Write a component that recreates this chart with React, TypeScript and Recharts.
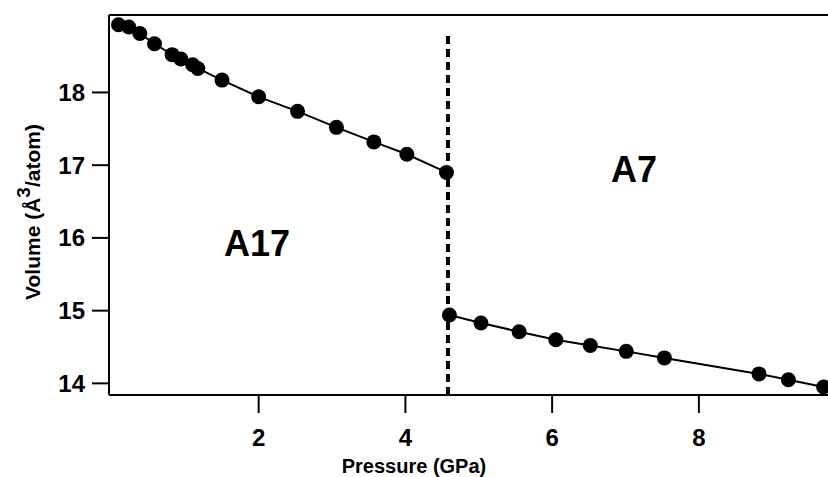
import React from 'react';
import { ComposedChart, Line, XAxis, YAxis, ReferenceLine } from 'recharts';

// A17 phase (low pressure)
const a17Pressure = [0.09, 0.23, 0.38, 0.58, 0.82, 0.94, 1.1, 1.17, 1.5, 2.0, 2.53, 3.06, 3.57, 4.02, 4.56];
const a17Volume = [18.93, 18.9, 18.81, 18.67, 18.52, 18.46, 18.38, 18.33, 18.17, 17.94, 17.74, 17.52, 17.32, 17.15, 16.9];

// A7 phase (high pressure)
const a7Pressure = [4.6, 5.03, 5.55, 6.05, 6.52, 7.01, 7.53, 8.82, 9.22, 9.7];
const a7Volume = [14.94, 14.83, 14.71, 14.6, 14.52, 14.44, 14.35, 14.13, 14.05, 13.95];

const xTicks = [2, 4, 6, 8];
const yTicks = [14, 15, 16, 17, 18];
const transitionP = 4.58;

const a17Data = a17Pressure.map((p, i) => ({ p, v: a17Volume[i] }));
const a7Data = a7Pressure.map((p, i) => ({ p, v: a7Volume[i] }));

const font = '"Liberation Sans", Arial, sans-serif';

const XTick = (props: any) => {
  const { x, y, payload } = props;
  return (
    <text x={x} y={y + 31} textAnchor="middle" fontFamily={font} fontWeight={700} fontSize={24} fill="#000">
      {payload.value}
    </text>
  );
};

const YTick = (props: any) => {
  const { x, y, payload } = props;
  return (
    <text x={x - 5} y={y + 8.5} textAnchor="end" fontFamily={font} fontWeight={700} fontSize={24} fill="#000">
      {payload.value}
    </text>
  );
};

const YLabel = () => (
  <text
    x={0}
    y={0}
    transform="translate(40, 212) rotate(-90)"
    textAnchor="middle"
    fontFamily={font}
    fontWeight={700}
    fontSize={21}
    fill="#000"
  >
    Volume (Å<tspan dy={-10} fontSize={19}>3</tspan>
    <tspan dy={10}>/atom)</tspan>
  </text>
);

const XLabel = () => (
  <text x={414} y={473} textAnchor="middle" fontFamily={font} fontWeight={700} fontSize={20} fill="#000">
    Pressure (GPa)
  </text>
);

const App: React.FC = () => {
  return (
    <div style={{ position: 'absolute', left: 0, top: 0, background: '#fff' }}>
      <ComposedChart width={828} height={477} margin={{ top: 15, right: 0, bottom: 0, left: 0 }}>
        <XAxis
          type="number"
          dataKey="p"
          domain={[-0.04, 9.76]}
          allowDataOverflow
          ticks={xTicks}
          tick={<XTick />}
          tickSize={18}
          height={82}
          axisLine={{ stroke: '#000', strokeWidth: 2 }}
          tickLine={{ stroke: '#000', strokeWidth: 2 }}
          label={<XLabel />}
        />
        <YAxis
          type="number"
          dataKey="v"
          domain={[13.84, 19.065]}
          allowDataOverflow
          ticks={yTicks}
          tick={<YTick />}
          tickSize={17}
          width={109}
          axisLine={{ stroke: '#000', strokeWidth: 2 }}
          tickLine={{ stroke: '#000', strokeWidth: 2 }}
          label={<YLabel />}
        />
        <ReferenceLine y={19.065} stroke="#000" strokeWidth={2} />
        <ReferenceLine
          segment={[{ x: transitionP, y: 13.84 }, { x: transitionP, y: 18.83 }]}
          stroke="#000"
          strokeWidth={4}
          strokeDasharray="8 5"
        />
        <Line
          data={a17Data}
          dataKey="v"
          stroke="#000"
          strokeWidth={2}
          dot={{ r: 7.5, fill: '#000', stroke: '#000', strokeWidth: 0 }}
          isAnimationActive={false}
        />
        <Line
          data={a7Data}
          dataKey="v"
          stroke="#000"
          strokeWidth={2}
          dot={{ r: 7.5, fill: '#000', stroke: '#000', strokeWidth: 0 }}
          isAnimationActive={false}
        />
        <text x={257} y={256} textAnchor="middle" fontFamily={font} fontWeight={700} fontSize={36} fill="#000">
          A17
        </text>
        <text x={634} y={182} textAnchor="middle" fontFamily={font} fontWeight={700} fontSize={36} fill="#000">
          A7
        </text>
      </ComposedChart>
    </div>
  );
};

export default App;
